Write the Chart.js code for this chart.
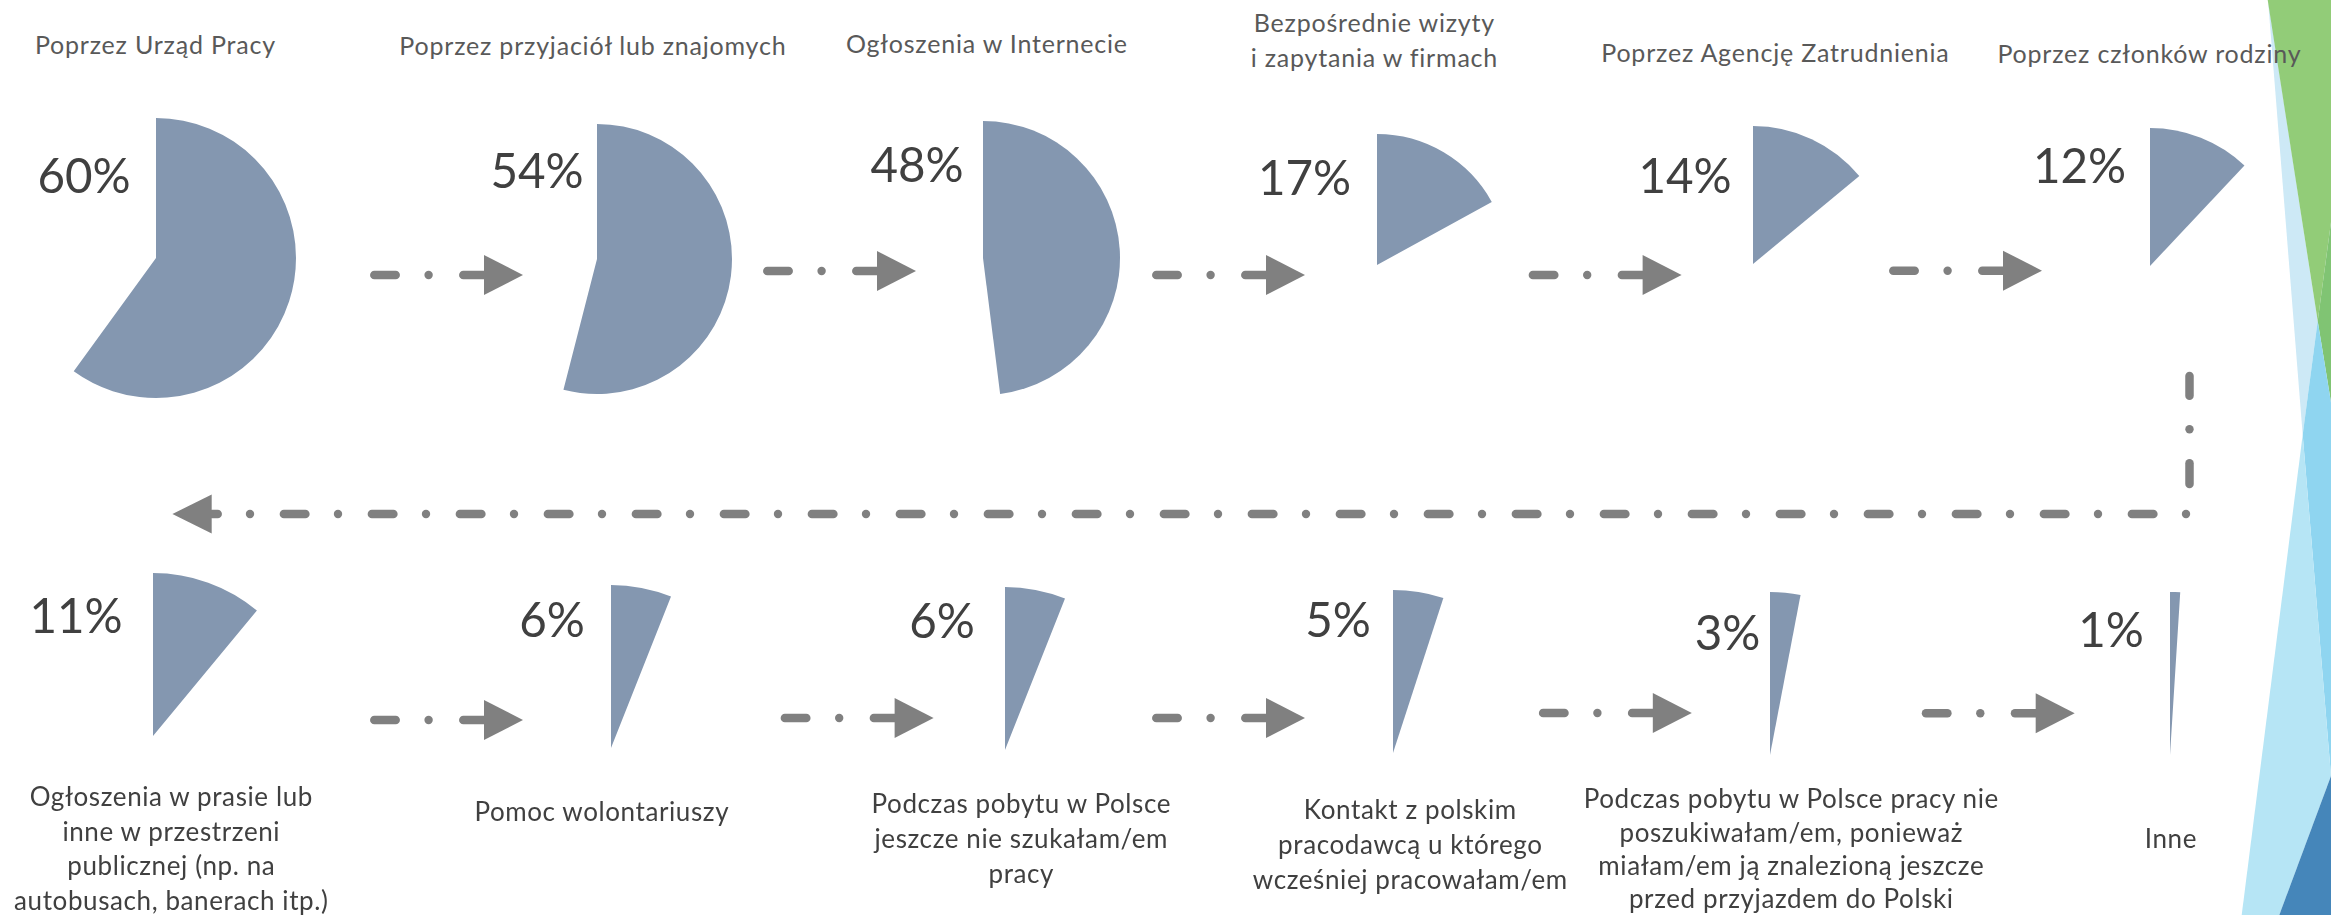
<!DOCTYPE html>
<html lang="pl">
<head>
<meta charset="utf-8">
<script src="https://cdn.jsdelivr.net/npm/chart.js@4.4.1/dist/chart.umd.min.js"></script>
<style>
  html, body { margin: 0; padding: 0; background: #fff; }
  #slide { position: relative; width: 2331px; height: 915px; overflow: hidden; font-family: Lato, "Open Sans", sans-serif; }
  #deco { position: absolute; left: 0; top: 0; }
  .pie { position: absolute; }
  .txt { position: absolute; line-height: 1; white-space: nowrap; transform: translateX(-50%); }
</style>
</head>
<body>
<div id="slide">
  <svg id="deco" width="2331" height="915" xmlns="http://www.w3.org/2000/svg"></svg>
</div>
<script>
// --- data ---
const categories = [
  ['Poprzez Urząd Pracy'],
  ['Poprzez przyjaciół lub znajomych'],
  ['Ogłoszenia w Internecie'],
  ['Bezpośrednie wizyty', 'i zapytania w firmach'],
  ['Poprzez Agencję Zatrudnienia'],
  ['Poprzez członków rodziny'],
  ['Ogłoszenia w prasie lub', 'inne w przestrzeni', 'publicznej (np. na', 'autobusach, banerach itp.)'],
  ['Pomoc wolontariuszy'],
  ['Podczas pobytu w Polsce', 'jeszcze nie szukałam/em', 'pracy'],
  ['Kontakt z polskim', 'pracodawcą u którego', 'wcześniej pracowałam/em'],
  ['Podczas pobytu w Polsce pracy nie', 'poszukiwałam/em, ponieważ', 'miałam/em ją znalezioną jeszcze', 'przed przyjazdem do Polski'],
  ['Inne']
];
const shares = [60, 54, 48, 17, 14, 12, 11, 6, 6, 5, 3, 1];

// --- layout (slide coordinates) ---
const pieCenter = [[155.6, 258.3], [597, 259], [982.7, 257.5], [1376.5, 265], [1753, 264.3], [2150, 265.7],
                   [152.6, 736], [610.7, 748], [1005, 750], [1393, 753], [1770, 755], [2169.7, 755]];
const pieRadius = [140, 135, 137, 131, 138, 138, 163, 163, 163, 163, 163, 163];
const pctPos = [[84, 193], [537, 188], [917, 182], [1304.6, 195], [1685, 193], [2079.5, 183],
                [76, 633], [552, 637], [942, 638], [1338, 637], [1727.5, 650], [2111, 647]];
const capPos = [[155, 54], [592.5, 55], [986.5, 53.3], [1374, 31.7], [1775, 62.3], [2149, 63],
                [171, 806], [601.5, 821], [1021, 812.7], [1410, 819], [1791, 808.3], [2170.6, 848.3]];
const capGap = [35, 35, 35, 35, 35, 35, 34.7, 35, 35, 35, 33.4, 35];
const arrowStart = [[370, 275], [763, 271], [1152, 275], [1528.6, 275], [1889, 270.7],
                    [370, 720], [780.6, 718], [1152, 718], [1538.8, 713], [1921.7, 713.3]];

const sliceColor = '#8497B0';
const lineColor = '#808080';
const slide = document.getElementById('slide');
const svg = document.getElementById('deco');
const NS = 'http://www.w3.org/2000/svg';

function el(tag, attrs) {
  const e = document.createElementNS(NS, tag);
  for (const k in attrs) e.setAttribute(k, attrs[k]);
  svg.appendChild(e);
  return e;
}
function seg(x1, y1, x2, y2) {
  el('line', { x1, y1, x2, y2, stroke: lineColor, 'stroke-width': 8.5, 'stroke-linecap': 'round' });
}
function dot(x, y) {
  el('circle', { cx: x, cy: y, r: 4.2, fill: lineColor });
}
function poly(pts, fill) {
  el('polygon', { points: pts.map(p => p.join(',')).join(' '), fill });
}

// right edge facets
poly([[2268, 0], [2317.7, 321], [2302.7, 434.7]], '#CDE9F6');
poly([[2267.7, 0], [2331, 0], [2331, 222], [2317.7, 321]], '#92CC78');
poly([[2331, 222], [2317.7, 321], [2331, 402.6]], '#80C473');
poly([[2317.7, 321], [2331, 402.6], [2331, 776], [2302.7, 434.7]], '#8FD5F0');
poly([[2302.7, 434.7], [2331, 776], [2279.3, 915], [2241.7, 915]], '#B6E5F5');
poly([[2331, 776], [2279.3, 915], [2331, 915]], '#4586BA');

// short dash-dot arrows between pies
arrowStart.forEach(([x0, y]) => {
  seg(x0 + 4.3, y, x0 + 25.7, y);
  dot(x0 + 58.6, y);
  seg(x0 + 93.3, y, x0 + 115, y);
  poly([[x0 + 114, y - 20], [x0 + 153, y], [x0 + 114, y + 20]], lineColor);
});

// connector: down from the top row, then back to the left
seg(2189.5, 376, 2189.5, 395.7);
dot(2189.5, 429.3);
seg(2189.5, 463.3, 2189.5, 484);
for (let k = 0; k <= 22; k++) dot(250 + 88 * k, 514);
for (let k = 0; k <= 21; k++) seg(283.9 + 88 * k, 514, 305.4 + 88 * k, 514);
seg(212, 514, 217.7, 514);
poly([[211.7, 494.5], [172.4, 514], [211.7, 533.5]], lineColor);

// text helper: x = centre, y = baseline
function addText(str, x, y, size, color, spacing) {
  const d = document.createElement('div');
  d.className = 'txt';
  d.textContent = str;
  d.style.fontSize = size + 'px';
  d.style.color = color;
  d.style.letterSpacing = spacing + 'px';
  d.style.left = (x + spacing / 2) + 'px';
  d.style.top = (y - 0.887 * size) + 'px';
  slide.appendChild(d);
}

shares.forEach((v, i) => {
  const r = pieRadius[i];
  const [cx, cy] = pieCenter[i];
  const pad = 2;
  const size = 2 * (r + pad);
  const box = document.createElement('div');
  box.className = 'pie';
  box.style.left = (cx - size / 2) + 'px';
  box.style.top = (cy - size / 2) + 'px';
  box.style.width = size + 'px';
  box.style.height = size + 'px';
  const cv = document.createElement('canvas');
  cv.width = size;
  cv.height = size;
  box.appendChild(cv);
  slide.appendChild(box);

  new Chart(cv, {
    type: 'pie',
    data: {
      labels: [categories[i].join(' '), ''],
      datasets: [{
        data: [v, 100 - v],
        backgroundColor: [sliceColor, 'rgba(0,0,0,0)'],
        borderWidth: 0,
        hoverOffset: 0
      }]
    },
    options: {
      responsive: false,
      animation: false,
      events: [],
      layout: { padding: pad },
      plugins: { legend: { display: false }, tooltip: { enabled: false } }
    }
  });

  addText(v + '%', pctPos[i][0], pctPos[i][1], 47.5, '#404040', 0);

  const top = i < 6;
  categories[i].forEach((line, j) => {
    addText(line, capPos[i][0], capPos[i][1] + j * capGap[i],
            top ? 25 : 26, top ? '#595959' : '#404040', top ? 0.8 : 0.6);
  });
});
</script>
</body>
</html>
